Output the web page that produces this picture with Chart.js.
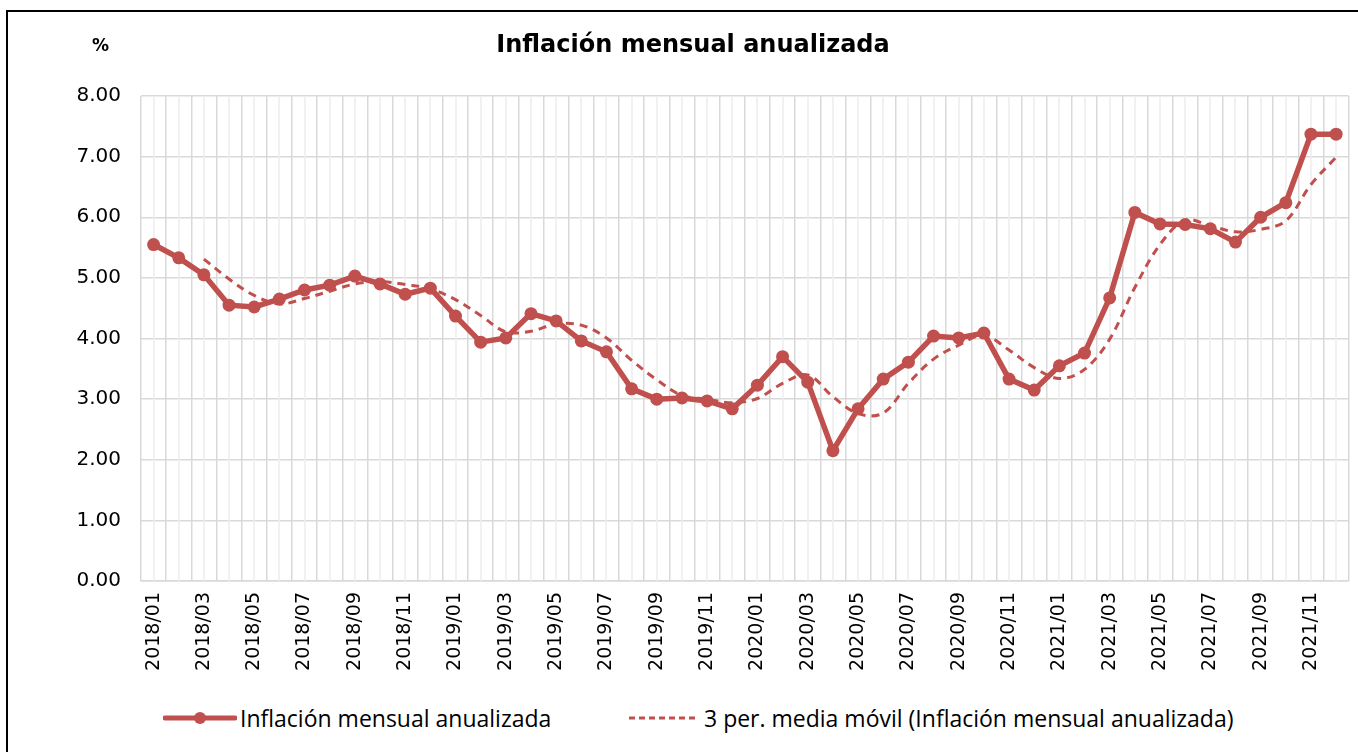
<!DOCTYPE html>
<html>
<head>
<meta charset="utf-8">
<script src="https://cdn.jsdelivr.net/npm/chart.js@4.4.1/dist/chart.umd.min.js"></script>
<style>
  html, body { margin: 0; padding: 0; background: #fff; }
  body { width: 1358px; height: 752px; position: relative; overflow: hidden; }
  #frame { position: absolute; left: 6px; top: 10px; width: 1400px; height: 800px; border: 2px solid #000; box-sizing: border-box; }
  #wrap { position: absolute; left: 0; top: 0; width: 1370px; height: 700px; }
  #title { position: absolute; left: 0; width: 1386px; top: 30px; text-align: center; font: bold 24px "DejaVu Sans", sans-serif; color: #000; }
  #unit { position: absolute; left: 92px; top: 35px; font: bold 17px "DejaVu Sans", sans-serif; color: #000; }
  .leg { position: absolute; top: 705px; height: 26px; display: flex; align-items: center; font: 23px "Open Sans", sans-serif; color: #000; }
  .leg svg { margin-right: 3px; }
</style>
</head>
<body>
<div id="frame"></div>
<div id="wrap"><canvas id="c"></canvas></div>
<div id="unit">%</div>
<div id="title">Inflación mensual anualizada</div>
<div class="leg" style="left:163px">
  <svg width="74" height="26"><line x1="2" y1="13" x2="72" y2="13" stroke="#c0504d" stroke-width="5" stroke-linecap="round"/><circle cx="37" cy="13" r="6" fill="#c0504d"/></svg>
  <span>Inflación mensual anualizada</span>
</div>
<div class="leg" style="left:627px">
  <svg width="74" height="26"><line x1="2" y1="13" x2="72" y2="13" stroke="#c0504d" stroke-width="3" stroke-dasharray="6 4"/></svg>
  <span>3 per. media móvil (Inflación mensual anualizada)</span>
</div>
<script>
const months = [
  '2018/01','2018/02','2018/03','2018/04','2018/05','2018/06','2018/07','2018/08','2018/09','2018/10','2018/11','2018/12',
  '2019/01','2019/02','2019/03','2019/04','2019/05','2019/06','2019/07','2019/08','2019/09','2019/10','2019/11','2019/12',
  '2020/01','2020/02','2020/03','2020/04','2020/05','2020/06','2020/07','2020/08','2020/09','2020/10','2020/11','2020/12',
  '2021/01','2021/02','2021/03','2021/04','2021/05','2021/06','2021/07','2021/08','2021/09','2021/10','2021/11','2021/12'
]

// monthly annualised inflation, %
const inflation = [
  5.55, 5.33, 5.05, 4.55, 4.52, 4.65, 4.80, 4.88, 5.03, 4.90, 4.73, 4.83,
  4.37, 3.94, 4.01, 4.41, 4.29, 3.96, 3.78, 3.17, 3.00, 3.02, 2.97, 2.84,
  3.23, 3.70, 3.28, 2.15, 2.84, 3.33, 3.61, 4.04, 4.01, 4.09, 3.33, 3.15,
  3.55, 3.76, 4.67, 6.08, 5.89, 5.88, 5.81, 5.59, 6.00, 6.24, 7.37, 7.37
]

// 3-period moving average as drawn
const movingAvg = [
  null, null, 5.31, 4.98, 4.71, 4.57, 4.66, 4.78, 4.90, 4.94, 4.89, 4.82,
  4.64, 4.38, 4.11, 4.12, 4.24, 4.22, 4.01, 3.64, 3.32, 3.06, 3.00, 2.94,
  3.01, 3.26, 3.40, 3.04, 2.76, 2.77, 3.26, 3.66, 3.89, 4.05, 3.81, 3.52,
  3.34, 3.49, 3.99, 4.84, 5.55, 5.95, 5.86, 5.76, 5.80, 5.94, 6.54, 6.99
]

const red = '#c0504d'

// lighter minor lines through the category centres
const minorGridPlugin = {
  id: 'minorGrid',
  beforeDatasetsDraw: (chart) => {
    const { ctx, chartArea, scales: { x } } = chart
    ctx.save()
    ctx.strokeStyle = '#ececec'
    ctx.lineWidth = 1.5
    for (let i = 0; i < months.length; i++) {
      const xPos = Math.round(x.getPixelForValue(i))
      ctx.beginPath()
      ctx.moveTo(xPos, chartArea.top)
      ctx.lineTo(xPos, chartArea.bottom)
      ctx.stroke()
    }
    ctx.restore()
  }
}

new Chart(document.getElementById('c'), {
  type: 'line',
  data: {
    labels: months,
    datasets: [
      {
        label: 'Inflación mensual anualizada',
        data: inflation,
        borderColor: red,
        backgroundColor: red,
        borderWidth: 5.5,
        pointRadius: 6.5,
        pointHoverRadius: 6.5,
        pointBorderWidth: 0,
        tension: 0,
        order: 1
      },
      {
        label: '3 per. media móvil (Inflación mensual anualizada)',
        data: movingAvg,
        borderColor: red,
        borderWidth: 3,
        borderDash: [8, 6],
        pointRadius: 0,
        tension: 0.35,
        fill: false,
        order: 2
      }
    ]
  },
  options: {
    responsive: true,
    maintainAspectRatio: false,
    animation: false,
    layout: { padding: { left: 0, right: 8, top: 96, bottom: 0 } },
    plugins: {
      legend: { display: false },
      title: { display: false },
      tooltip: { enabled: false }
    },
    scales: {
      x: {
        offset: true,
        grid: { offset: true, color: '#d9d9d9', lineWidth: 1.5, drawTicks: false },
        border: { display: true, color: '#d9d9d9', width: 1.5 },
        afterFit: (scale) => { scale.height = 119 },
        ticks: {
          autoSkip: false,
          minRotation: 90,
          maxRotation: 90,
          padding: 11,
          color: '#000',
          font: { family: 'DejaVu Sans', size: 19 },
          callback: (value, index) => index % 2 === 0 ? months[index] : ''
        }
      },
      y: {
        min: 0,
        max: 8,
        grid: { color: '#d9d9d9', lineWidth: 1.5, drawTicks: false },
        border: { display: false },
        afterFit: (scale) => { scale.width = 141 },
        ticks: {
          stepSize: 1,
          padding: 20,
          color: '#000',
          font: { family: 'DejaVu Sans', size: 20 },
          callback: (value) => Number(value).toFixed(2)
        }
      }
    }
  },
  plugins: [minorGridPlugin]
})
</script>
</body>
</html>
